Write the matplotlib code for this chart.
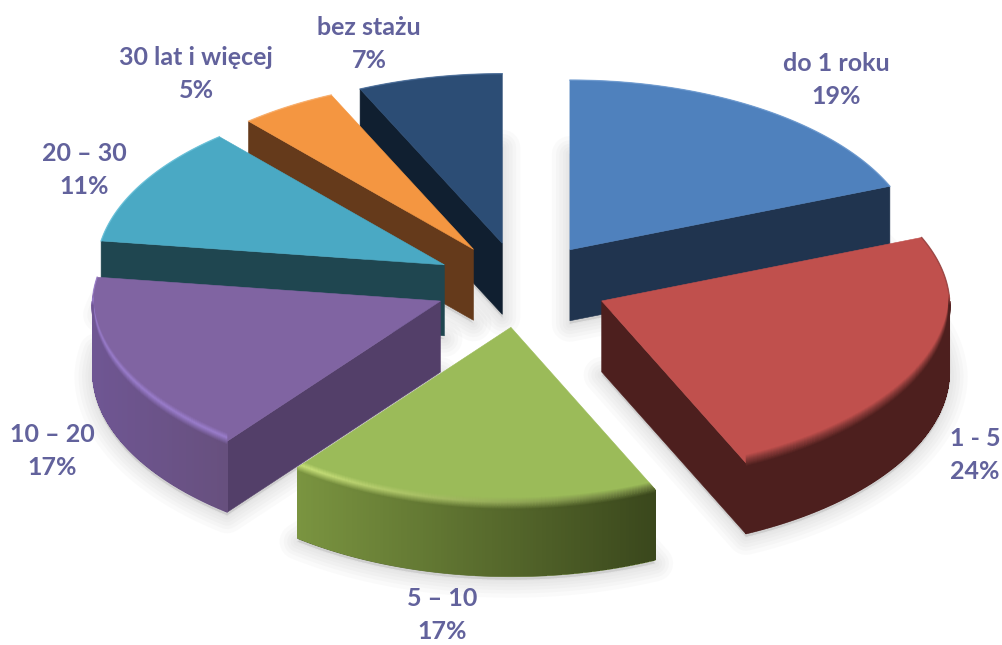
import numpy as np
import matplotlib
matplotlib.use("Agg")
import matplotlib.pyplot as plt
from matplotlib.collections import PolyCollection, LineCollection
from matplotlib.colors import to_rgb
from matplotlib.patches import Polygon

categories = ["do 1 roku", "1 - 5", "5 – 10", "10 – 20", "20 – 30", "30 lat i więcej", "bez stażu"]
values = [19.0, 24.2, 17.3, 16.7, 11.3, 4.6, 6.9]

top_colors = ["#4f81bd", "#c0504d", "#9bbb59", "#8064a2", "#4aa9c4", "#f49641", "#2c4d75"]
cut_colors = ["#20344f", "#4d1f1e", "#4e6228", "#533f69", "#1f4650", "#653a1b", "#101f30"]
rim_left = ["#20344f", "#4d1f1e", "#7a9440", "#6f5693", "#1f4650", "#653a1b", "#101f30"]
rim_right = ["#20344f", "#4d1f1e", "#3a471c", "#67507e", "#1f4650", "#653a1b", "#101f30"]
glow_left = ["#6d9ad0", "#8a3b39", "#c9e27a", "#9a7dcc", "#6cc4dc", "#f8b070", "#4a6e9c"]
glow_right = ["#6d9ad0", "#8a3b39", "#6f8240", "#9a7dcc", "#6cc4dc", "#f8b070", "#4a6e9c"]
label_xy = [(836, 80), (975, 455), (442, 615), (52, 451), (84, 170), (196, 74), (369, 44)]
draw_order = [6, 5, 4, 0, 3, 1, 2]

CX, CY, EXPLODE = 521.0, 285.0, 87.0
R, RK, PERSP, DEPTH, TILT = 348.0, 174.0, 0.025, 71.0, 0.49
BACK_NARROW = 0.03
TEXT_COLOR = "#62629c"


def mix(a, b, t):
    a, b = np.array(to_rgb(a)), np.array(to_rgb(b))
    return tuple(a + (b - a) * t)


def rim_xy(ax0, ay0, theta):
    c = np.cos(theta)
    return (ax0 + R * np.sin(theta) * (1 - BACK_NARROW * np.maximum(c, 0)),
            ay0 - RK * c * (1 - PERSP * c))


fig = plt.figure(figsize=(10.03, 6.45), dpi=100, facecolor="white")
ax = fig.add_axes([0, 0, 1, 1])
ax.set_xlim(0, 1003)
ax.set_ylim(645, 0)
ax.axis("off")

edges = np.radians(np.concatenate([[0], np.cumsum(values)]) / sum(values) * 360)
slices = []
for i in range(len(values)):
    t1, t2 = edges[i], edges[i + 1]
    mid = (t1 + t2) / 2
    slices.append((CX + EXPLODE * np.sin(mid), CY - EXPLODE * TILT * np.cos(mid), t1, t2))


def wedge(ax0, ay0, t1, t2):
    th = np.linspace(t1, t2, 80)
    x, y = rim_xy(ax0, ay0, th)
    return np.r_[ax0, x], np.r_[ay0, y]


# soft shadows: the blurred bottom face of every slice
for ax0, ay0, t1, t2 in slices:
    x, y = wedge(ax0, ay0, t1, t2)
    for lw in (26, 20, 15, 10, 6, 2):
        ax.fill(x, y + DEPTH + 3, fc=(0.5, 0.5, 0.5, 0.035), ec=(0.5, 0.5, 0.5, 0.035),
                lw=lw, joinstyle="round", zorder=1)

z = 2
for i in draw_order:
    ax0, ay0, t1, t2 = slices[i]
    # flat cut faces that look towards the viewer
    for th, visible in ((t1, np.sin(t1) < -1e-6), (t2, np.sin(t2) > 1e-6)):
        if visible:
            ex, ey = rim_xy(ax0, ay0, th)
            ax.fill([ax0, ex, ex, ax0], [ay0, ey, ey + DEPTH, ay0 + DEPTH],
                    fc=cut_colors[i], ec=cut_colors[i], lw=0.4, zorder=z)
    # curved outer side: antialiased base outline, then crisp shaded strips
    a0, a1 = max(t1, np.pi / 2), min(t2, 3 * np.pi / 2)
    front = a1 > a0
    if front:
        th = np.linspace(a0, a1, 120)
        x, y = rim_xy(ax0, ay0, th)
        xn = (x - x.min()) / (x.max() - x.min())
        base = mix(rim_left[i], rim_right[i], 0.5)
        ax.fill(np.r_[x, x[::-1]], np.r_[y, y[::-1] + DEPTH], fc=base, ec=base, lw=0.5, zorder=z)
        polys = [[(x[k], y[k] + 1), (x[k + 1], y[k + 1] + 1), (x[k + 1], y[k + 1] + DEPTH - 0.7), (x[k], y[k] + DEPTH - 0.7)]
                 for k in range(len(x) - 1)]
        cols = [mix(rim_left[i], rim_right[i], (xn[k] + xn[k + 1]) / 2) for k in range(len(x) - 1)]
        ax.add_collection(PolyCollection(polys, facecolors=cols, edgecolors="none", linewidths=0,
                                         antialiaseds=False, zorder=z))
    # top face
    x, y = wedge(ax0, ay0, t1, t2)
    ax.fill(x, y, fc=top_colors[i], ec=top_colors[i], lw=0.4, zorder=z + 0.1)
    top_clip = Polygon(np.c_[x, y], closed=True, transform=ax.transData)
    # light edge at the back of the top face
    thb = np.linspace(t1, t2, 80)
    xb, yb = rim_xy(ax0, ay0, thb)
    keep = np.cos(thb) > 0
    if keep.any():
        ax.plot(xb[keep], yb[keep], color=glow_left[i], lw=1.0, alpha=0.7, zorder=z + 0.2)
    # bevel band along the front edge of the top face
    if front:
        th = np.linspace(a0, a1, 120)
        x, y = rim_xy(ax0, ay0, th)
        xn = (x - x.min()) / (x.max() - x.min())
        for off in np.arange(-8, 4.01, 1.0):
            t = (off + 8) / 12
            segs = [[(x[k], y[k] + off), (x[k + 1], y[k + 1] + off)] for k in range(len(x) - 1)]
            cols = []
            for k in range(len(x) - 1):
                glow = mix(glow_left[i], glow_right[i], xn[k])
                side = mix(rim_left[i], rim_right[i], xn[k])
                cols.append(mix(top_colors[i], glow, t / 0.4) if t < 0.4 else mix(glow, side, (t - 0.4) / 0.6))
            band = LineCollection(segs, colors=cols, linewidths=1.4, zorder=z + 0.3)
            ax.add_collection(band)
            if off < 0:
                band.set_clip_path(top_clip)
    z += 1

for name, v, (lx, ly) in zip(categories, values, label_xy):
    ax.text(lx, ly, f"{name}\n{round(v)}%", ha="center", va="center", multialignment="center",
            color=TEXT_COLOR, fontsize=18, fontweight="bold", family=["Lato", "DejaVu Sans"],
            linespacing=1.57, zorder=50)

fig.savefig("out.png", dpi=100, facecolor="white")
